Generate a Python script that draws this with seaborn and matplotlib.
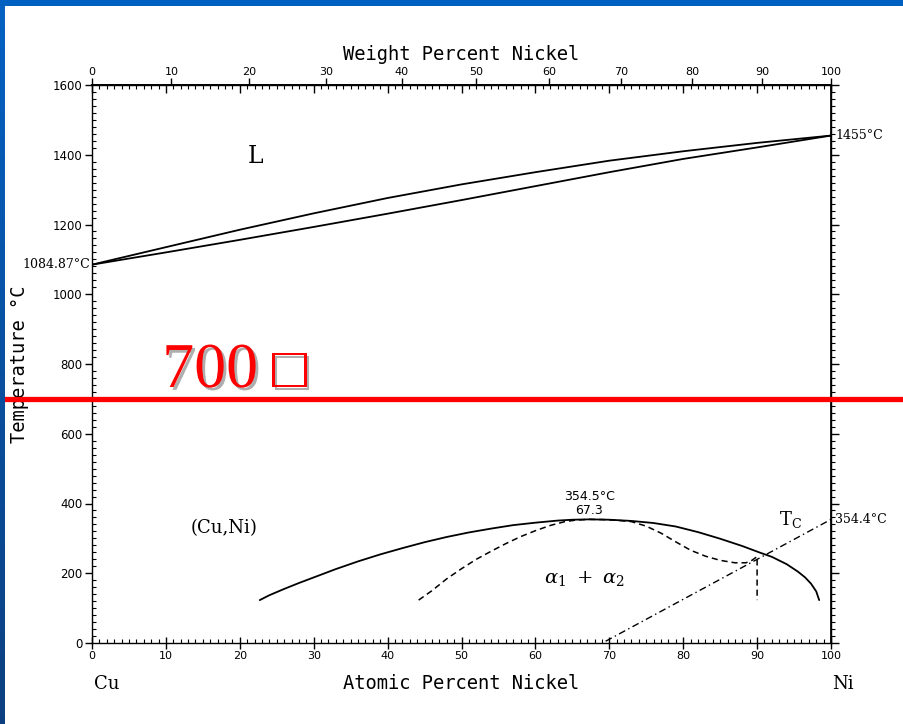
import numpy as np
import pandas as pd
import matplotlib
matplotlib.use("Agg")
import matplotlib.pyplot as plt
import seaborn as sns
from matplotlib.ticker import MultipleLocator, FixedLocator, NullLocator
import matplotlib.patheffects as pe

# ---------------- data (atomic % Ni, temperature in degC) ----------------
liq_at = [0, 10, 20, 30, 40, 50, 60, 70, 80, 90, 100]
liq_T = [1084.87, 1135, 1185, 1232, 1276, 1315, 1350, 1383, 1410, 1434, 1455]
sol_at = [0, 10, 20, 30, 40, 50, 60, 70, 80, 90, 100]
sol_T = [1084.87, 1120, 1156, 1193, 1231, 1270, 1310, 1350, 1388, 1421, 1455]

gap_at = [22.7, 24, 26, 28, 30, 33, 36, 39, 42, 45, 48, 51, 54, 57, 60, 63, 65,
          67.3, 70, 73, 76, 79, 82, 85, 88, 90.4, 92, 94, 95.5, 96.5, 97.3, 98, 98.4]
gap_T = [123, 137, 155, 172, 188, 212, 234, 254, 272, 289, 304, 317, 328, 338, 345,
         351, 353.5, 354.5, 353.5, 350, 344, 334, 318, 299, 278, 259, 247, 226, 205,
         188, 170, 148, 123]

spin_at = [44.2, 46, 48, 50, 52, 54, 56, 58, 60, 62, 64, 65.5, 67.3, 69, 71, 73,
           75, 77, 79, 81, 83, 85, 87, 88.5, 89.3, 90.0, 90.0]
spin_T = [123, 150, 184, 213, 240, 263, 285, 305, 322, 337, 348, 352.5, 354.5, 354,
          352, 348, 335, 315, 290, 266, 249, 237, 230, 230, 237, 248, 123]

tc_at = [69.5, 100]
tc_T = [5, 354.4]

weight_ticks = [0, 10, 20, 30, 40, 50, 60, 70, 80, 90, 100]
M_NI, M_CU = 58.693, 63.546


def at2wt(a):
    a = np.clip(np.asarray(a, dtype=float), 0, 100)
    return 100 * a * M_NI / (a * M_NI + (100 - a) * M_CU)


def wt2at(w):
    w = np.clip(np.asarray(w, dtype=float), 0, 100)
    return 100 * (w / M_NI) / (w / M_NI + (100 - w) / M_CU)


sns.set_theme(style="white")
plt.rcParams["font.family"] = ["DejaVu Sans"]
plt.rcParams["text.color"] = "black"
plt.rcParams["axes.labelcolor"] = "black"
plt.rcParams["xtick.color"] = "black"
plt.rcParams["ytick.color"] = "black"
plt.rcParams["mathtext.fontset"] = "dejavuserif"

fig = plt.figure(figsize=(9.04, 7.24), dpi=100)
fig.patch.set_facecolor("white")
ax = fig.add_axes([92 / 904, 81 / 724, 739 / 904, 558 / 724])
ax.set_facecolor("white")

lw = 1.3
sns.lineplot(x=liq_at, y=liq_T, sort=False, estimator=None, color="black", lw=lw, ax=ax)
sns.lineplot(x=sol_at, y=sol_T, sort=False, estimator=None, color="black", lw=lw, ax=ax)
sns.lineplot(x=gap_at, y=gap_T, sort=False, estimator=None, color="black", lw=lw, ax=ax)
sns.lineplot(x=spin_at, y=spin_T, sort=False, estimator=None, color="black", lw=1.1, ax=ax)
ax.lines[-1].set_dashes([4, 2.6])
sns.lineplot(x=tc_at, y=tc_T, sort=False, estimator=None, color="black", lw=1.0, ax=ax)
ax.lines[-1].set_dashes([5, 2.5, 1, 2.5])

ax.set_xlim(0, 100)
ax.set_ylim(0, 1600)
for s in ax.spines.values():
    s.set_color("black")
    s.set_linewidth(1.0)

# bottom / left ticks
ax.xaxis.set_major_locator(MultipleLocator(10))
ax.xaxis.set_minor_locator(MultipleLocator(1))
ax.yaxis.set_major_locator(MultipleLocator(200))
ax.yaxis.set_minor_locator(MultipleLocator(20))
ax.tick_params(axis="x", which="major", bottom=True, top=False, direction="inout",
               length=8, width=1, labelsize=8, pad=2)
ax.tick_params(axis="x", which="minor", bottom=True, top=False, direction="in",
               length=3, width=0.8)
ax.tick_params(axis="y", which="major", left=True, right=False, direction="out",
               length=5, width=1, labelsize=8.5, pad=2)
ax.tick_params(axis="y", which="minor", left=True, right=False, direction="in",
               length=3, width=0.8)

# right axis ticks (outward, unlabeled)
secr = ax.secondary_yaxis("right")
secr.yaxis.set_major_locator(MultipleLocator(200))
secr.yaxis.set_minor_locator(MultipleLocator(20))
secr.tick_params(axis="y", which="major", right=True, direction="out", length=6,
                 width=1, labelright=False)
secr.tick_params(axis="y", which="minor", right=True, direction="out", length=3,
                 width=0.8)
secr.spines["right"].set_color("black")

# top atomic ticks (inward, unlabeled)
seca = ax.secondary_xaxis("top")
seca.xaxis.set_major_locator(MultipleLocator(10))
seca.xaxis.set_minor_locator(MultipleLocator(1))
seca.tick_params(axis="x", which="major", top=True, direction="in", length=6,
                 width=1, labeltop=False)
seca.tick_params(axis="x", which="minor", top=True, direction="in", length=3,
                 width=0.8)
seca.spines["top"].set_color("black")

# top weight-percent scale
secw = ax.secondary_xaxis("top", functions=(at2wt, wt2at))
secw.xaxis.set_major_locator(FixedLocator(weight_ticks))
secw.xaxis.set_minor_locator(NullLocator())
secw.tick_params(axis="x", which="major", top=True, direction="out", length=5,
                 width=1, labelsize=8, pad=1)
secw.spines["top"].set_color("black")
secw.set_xlabel("Weight Percent Nickel", family="DejaVu Sans Mono", fontsize=13.5,
                labelpad=5)

ax.set_xlabel("Atomic Percent Nickel", family="DejaVu Sans Mono", fontsize=13.5)
ax.xaxis.set_label_coords(0.5, -0.073)
ax.xaxis.label.set_va("center")
ax.set_ylabel("Temperature °C", family="DejaVu Sans Mono", fontsize=13.5)
ax.yaxis.set_label_coords(-0.0975, 0.5)
ax.yaxis.label.set_va("center")

# annotations
ser = ["DejaVu Serif"]
ax.annotate("1084.87°C", xy=(0, 1084.87), xytext=(-1, 0), textcoords="offset points",
            ha="right", va="center", family=ser, fontsize=9, annotation_clip=False)
ax.annotate("1455°C", xy=(100, 1455), xytext=(3, 0), textcoords="offset points",
            ha="left", va="center", family=ser, fontsize=9, annotation_clip=False)
ax.annotate("354.4°C", xy=(100, 354.4), xytext=(3, 0), textcoords="offset points",
            ha="left", va="center", family=ser, fontsize=9, annotation_clip=False)
ax.text(67.3, 421, "354.5°C", ha="center", va="center", fontsize=9)
ax.text(67.3, 381, "67.3", ha="center", va="center", fontsize=9)
ax.text(22.1, 1396, "L", ha="center", va="center", family=ser, fontsize=17)
ax.text(17.9, 330, "(Cu,Ni)", ha="center", va="center", family=ser, fontsize=13)
ax.text(66.7, 186, r"$\alpha_1\ +\ \alpha_2$", ha="center", va="center", fontsize=14)
ax.text(94.5, 355, r"$\mathrm{T}_\mathrm{C}$", ha="center", va="center", fontsize=13)
fig.text(107 / 904, 1 - 684 / 724, "Cu", ha="center", va="center", family=ser, fontsize=13)
fig.text(843 / 904, 1 - 684 / 724, "Ni", ha="center", va="center", family=ser, fontsize=13)

# red 700 line and label
ax.axhline(700, xmin=-92 / 739, xmax=(904 - 92) / 739, color="#ff0000", lw=3.8,
           clip_on=False, zorder=5)
shadow = [pe.SimplePatchShadow(offset=(2, -2), shadow_rgbFace="0.3", alpha=0.45),
          pe.Normal()]
ax.text(9.5, 734, "700", ha="left", va="baseline", color="#ff0000",
        family=["Liberation Serif", "DejaVu Serif"], fontsize=46,
        path_effects=shadow, zorder=6)
ax.text(24.4, 734, "□", ha="left", va="baseline", color="#ff0000",
        family=["Liberation Serif", "DejaVu Sans"], fontsize=41,
        path_effects=shadow, zorder=6)

# slide border (blue)
top_ax = fig.add_axes([0, 1 - 6 / 724, 1, 6 / 724])
top_ax.imshow(np.array([[[0.0, 0.38, 0.76]]]), aspect="auto")
top_ax.axis("off")
left_ax = fig.add_axes([0, 0, 5 / 904, 1 - 6 / 724])
grad = np.linspace(0, 1, 100)[:, None]
cols = np.stack([0.02 + 0.03 * grad, 0.38 - 0.13 * grad, 0.76 - 0.26 * grad], axis=-1)
left_ax.imshow(cols, aspect="auto")
left_ax.axis("off")

fig.savefig("out.png", dpi=100, facecolor="white")
